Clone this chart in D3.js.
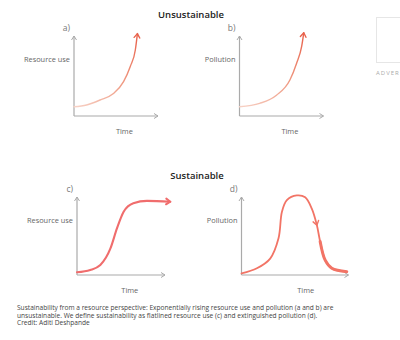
<!DOCTYPE html>
<html><head><meta charset="utf-8">
<script src="https://cdn.jsdelivr.net/npm/d3@7"></script>
<style>
html,body{margin:0;padding:0;background:#fff;}
svg{display:block;}
text{font-family:"Open Sans","Lato",sans-serif;}
</style></head>
<body>
<div id="chart"></div>
<script>
// ---------- data ----------
const titles = ["Unsustainable", "Sustainable"];
const panelLabels = ["a)", "b)", "c)", "d)"];
const yLabels = ["Resource use", "Pollution", "Resource use", "Pollution"];
const xLabel = "Time";
// curves (time, value) on 0..10 scales
const timeA = [0, 1.5, 3.1, 4.7, 5.9, 6.7, 7.3, 7.55];
const valueA = [1.15, 1.38, 2.0, 2.8, 4.3, 6.2, 8.25, 10.3];
const timeB = [0, 2.4, 4.4, 6.0, 6.8, 7.4, 7.65];
const valueB = [1.15, 1.58, 2.6, 4.5, 6.6, 8.7, 10.4];
const timeC = [0, 1.5, 2.65, 3.8, 4.55, 5.3, 6.4, 7.95, 10.6];
const valueC = [0.35, 0.64, 1.28, 3.4, 6.0, 8.1, 9.2, 9.5, 9.4];
const timeD = [0, 1.44, 2.68, 3.46, 3.78, 4.24, 5.17, 5.95, 6.57, 7.04, 7.35, 7.82, 8.44, 9.84];
const valueD = [0.2, 0.86, 2.1, 4.7, 8.1, 9.6, 10.2, 9.96, 8.5, 6.4, 4.3, 1.9, 0.86, 0.42];
const captionLines = [
  "Sustainability from a resource perspective: Exponentially rising resource use and pollution (a and b) are",
  "unsustainable. We define sustainability as flatlined resource use (c) and extinguished pollution (d).",
  "Credit: Aditi Deshpande"
];
const adText = "ADVER";

// ---------- layout ----------
const W = 400, H = 340;
const svg = d3.select("#chart").append("svg").attr("width", W).attr("height", H);

const defs = svg.append("defs");
const grad = defs.append("linearGradient").attr("id", "g1")
  .attr("x1", "0").attr("y1", "1").attr("x2", "1").attr("y2", "0");
grad.append("stop").attr("offset", "0").attr("stop-color", "#f7d2c6");
grad.append("stop").attr("offset", "0.55").attr("stop-color", "#ef9a83");
grad.append("stop").attr("offset", "1").attr("stop-color", "#e8624c");

const panels = [
  {x0: 74, y0: 116, w: 84, h: 80, t: timeA, v: valueA, color: "url(#g1)", arrowColor: "#e8624c", sw: 1.4},
  {x0: 239.5, y0: 116, w: 84, h: 80, t: timeB, v: valueB, color: "url(#g1)", arrowColor: "#e8624c", sw: 1.4},
  {x0: 77, y0: 275, w: 88, h: 78, t: timeC, v: valueC, color: "#f06d6d", arrowColor: "#f06d6d", sw: 2.1},
  {x0: 241.5, y0: 275, w: 107, h: 78, t: timeD, v: valueD, color: "#f27466", arrowColor: "#f27466", sw: 1.8}
];

svg.append("text").attr("x", 191).attr("y", 18).attr("text-anchor", "middle")
  .attr("font-size", 9.5).attr("fill", "#222").attr("font-weight", 600).text(titles[0]);
svg.append("text").attr("x", 197).attr("y", 179).attr("text-anchor", "middle")
  .attr("font-size", 9.5).attr("fill", "#222").attr("font-weight", 600).text(titles[1]);

const axisColor = "#aaa";
panels.forEach((p, i) => {
  const x = d3.scaleLinear().domain([0, 10]).range([p.x0, p.x0 + p.w]);
  const y = d3.scaleLinear().domain([0, 10]).range([p.y0, p.y0 - p.h]);
  const g = svg.append("g");
  const topY = p.y0 - p.h;
  const rightX = p.x0 + p.w;
  // axes
  g.append("line").attr("x1", p.x0).attr("y1", p.y0).attr("x2", p.x0).attr("y2", topY)
    .attr("stroke", axisColor).attr("stroke-width", 1.2);
  g.append("line").attr("x1", p.x0).attr("y1", p.y0).attr("x2", rightX).attr("y2", p.y0)
    .attr("stroke", axisColor).attr("stroke-width", 1.2);
  // axis arrowheads
  g.append("path").attr("d", `M${p.x0 - 2.5},${topY + 4}L${p.x0},${topY}L${p.x0 + 2.5},${topY + 4}`)
    .attr("fill", "none").attr("stroke", axisColor).attr("stroke-width", 1);
  g.append("path").attr("d", `M${rightX - 4},${p.y0 - 2.5}L${rightX},${p.y0}L${rightX - 4},${p.y0 + 2.5}`)
    .attr("fill", "none").attr("stroke", axisColor).attr("stroke-width", 1);
  // labels
  g.append("text").attr("x", p.x0 - 4).attr("y", topY - 5).attr("text-anchor", "end")
    .attr("font-size", 8.5).attr("fill", "#777").text(panelLabels[i]);
  g.append("text").attr("x", p.x0 - 4).attr("y", p.y0 - p.h * 0.67).attr("text-anchor", "end")
    .attr("font-size", 7.4).attr("fill", "#666").text(yLabels[i]);
  g.append("text").attr("x", p.x0 + p.w * 0.6).attr("y", p.y0 + 18).attr("text-anchor", "middle")
    .attr("font-size", 7.4).attr("fill", "#666").text(xLabel);
  // curve
  const pts = p.t.map((t, k) => [x(t), y(p.v[k])]);
  const line = d3.line().curve(d3.curveMonotoneX);
  const lineC = d3.line().curve(d3.curveCatmullRom.alpha(0.5));
  const path = g.append("path").attr("d", (i === 3 ? lineC : line)(pts))
    .attr("fill", "none").attr("stroke", p.color).attr("stroke-width", p.sw)
    .attr("stroke-linecap", "round");
  // thicker brush tail for d
  if (i === 3) {
    g.append("path").attr("d", lineC(pts.slice(10)))
      .attr("fill", "none").attr("stroke", p.color).attr("stroke-width", 3)
      .attr("stroke-linecap", "round");
  }
  // end arrow (a,b,c) / mid arrow (d)
  let tip, prev;
  const node = path.node(), L = node.getTotalLength();
  if (i < 3) {
    tip = pts[pts.length - 1];
    const q = node.getPointAtLength(L - 3);
    prev = [q.x, q.y];
  } else {
    const target = pts[9];
    let best = 0, bd = 1e9;
    for (let s = 0; s <= L; s += 0.5) {
      const q = node.getPointAtLength(s);
      const dd = (q.x - target[0]) ** 2 + (q.y - target[1]) ** 2;
      if (dd < bd) { bd = dd; best = s; }
    }
    const q1 = node.getPointAtLength(best - 2), q2 = node.getPointAtLength(best);
    prev = [q1.x, q1.y]; tip = [q2.x, q2.y];
  }
  const ang = Math.atan2(tip[1] - prev[1], tip[0] - prev[0]);
  const a = 5, spread = 0.6;
  const p1 = [tip[0] - a * Math.cos(ang - spread), tip[1] - a * Math.sin(ang - spread)];
  const p2 = [tip[0] - a * Math.cos(ang + spread), tip[1] - a * Math.sin(ang + spread)];
  g.append("path").attr("d", `M${p1[0]},${p1[1]}L${tip[0]},${tip[1]}L${p2[0]},${p2[1]}`)
    .attr("fill", "none").attr("stroke", p.arrowColor).attr("stroke-width", i === 2 ? 2 : 1.4)
    .attr("stroke-linecap", "round").attr("stroke-linejoin", "round");
});

// ad placeholder
svg.append("rect").attr("x", 376.5).attr("y", 17.5).attr("width", 30).attr("height", 45)
  .attr("fill", "none").attr("stroke", "#e6e6e6");
svg.append("text").attr("x", 376).attr("y", 75).attr("font-size", 6)
  .attr("font-family", "DejaVu Serif, serif").attr("letter-spacing", 1).attr("fill", "#aaa").text(adText);

// caption
captionLines.forEach((s, k) => {
  svg.append("text").attr("x", 17).attr("y", 310 + k * 7.6).attr("font-size", 6.6)
    .attr("fill", "#444").text(s);
});
</script>
</body></html>
